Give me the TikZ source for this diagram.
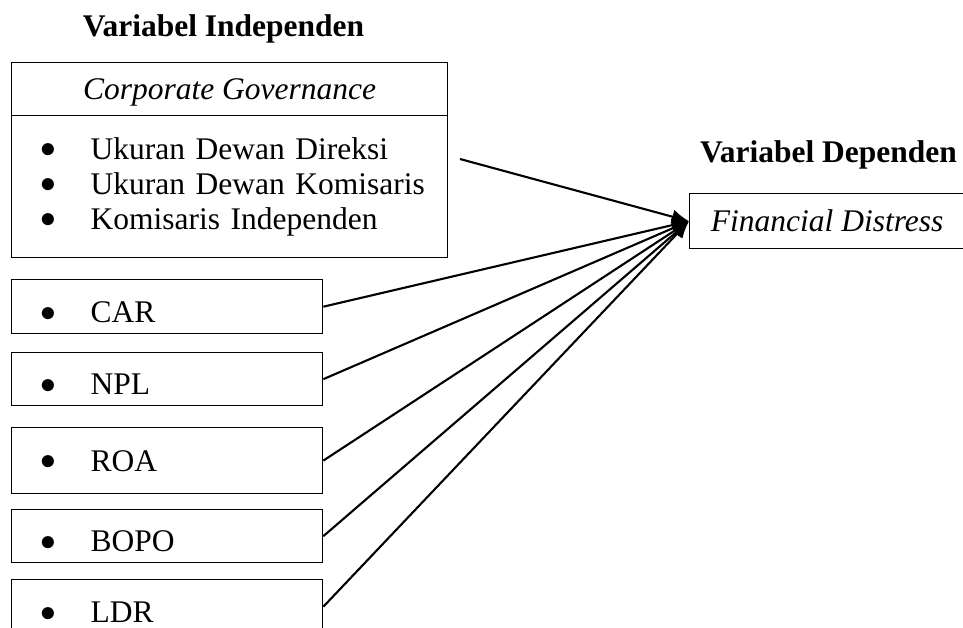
\documentclass[tikz,border=0pt]{standalone}
\usepackage{fontspec}
\setmainfont{Liberation Serif}
\usetikzlibrary{arrows.meta}
\newcommand{\butir}[1]{\mbox{\hspace*{14.1pt}\makebox[0pt]{\raisebox{0.5pt}{$\bullet$}}\hspace*{16pt}#1}}

\begin{document}
\begin{tikzpicture}[
    x=0.381pt, y=-0.381pt,
    every node/.style={font=\fontsize{12}{13.33}\selectfont},
    title/.style={font=\fontsize{12}{13.33}\selectfont\bfseries, anchor=base, inner sep=0pt},
    headbox/.style={rectangle, draw, line width=0.5pt, anchor=north west, minimum width=166.1pt, minimum height=20.2pt, text height=8pt, text depth=0pt, font=\fontsize{12}{13.33}\selectfont\itshape},
    listbox/.style={rectangle, draw, line width=0.5pt, anchor=north west, text width=166.1pt, inner xsep=0pt, align=left, minimum height=54.1pt},
    itembox/.style={rectangle, draw, line width=0.5pt, anchor=north west, text width=118.5pt, inner xsep=0pt, align=left, text height=12pt, text depth=0pt},
    arrow/.style={line width=0.8pt, -{Latex[length=6.5pt,width=5.5pt]}}
]
\useasboundingbox (0,0) rectangle (963,628);

% Variabel Independen
\node[title] (indep) at (223.5,37) {Variabel Independen};
\node[headbox] (cg) at (11,62) {Corporate Governance};
\node[listbox] (cglist) at (11,115) {\butir{Ukuran Dewan Direksi}\\ \butir{Ukuran Dewan Komisaris}\\ \butir{Komisaris Independen}};
\coordinate (cgout) at (460,159);

\node[itembox, minimum height=20.6pt] (car) at (11,279) {\butir{CAR}};
\node[itembox, minimum height=20.2pt] (npl) at (11,352) {\butir{NPL}};
\node[itembox, minimum height=25.1pt, text height=8pt] (roa) at (11,427) {\butir{ROA}};
\node[itembox, minimum height=20.2pt] (bopo) at (11,509) {\butir{BOPO}};
\node[itembox, minimum height=20.6pt] (ldr) at (11,579) {\butir{LDR}};

% Variabel Dependen
\node[title] (dep) at (828.5,163) {Variabel Dependen};
\node[headbox, minimum width=104.8pt, minimum height=21pt] (fd) at (689,193) {Financial Distress};

% Panah
\draw[arrow] (cgout) -- (fd.west);
\draw[arrow] (car.east) -- (fd.west);
\draw[arrow] (npl.east) -- (fd.west);
\draw[arrow] (roa.east) -- (fd.west);
\draw[arrow] (bopo.east) -- (fd.west);
\draw[arrow] (ldr.east) -- (fd.west);

\end{tikzpicture}
\end{document}
